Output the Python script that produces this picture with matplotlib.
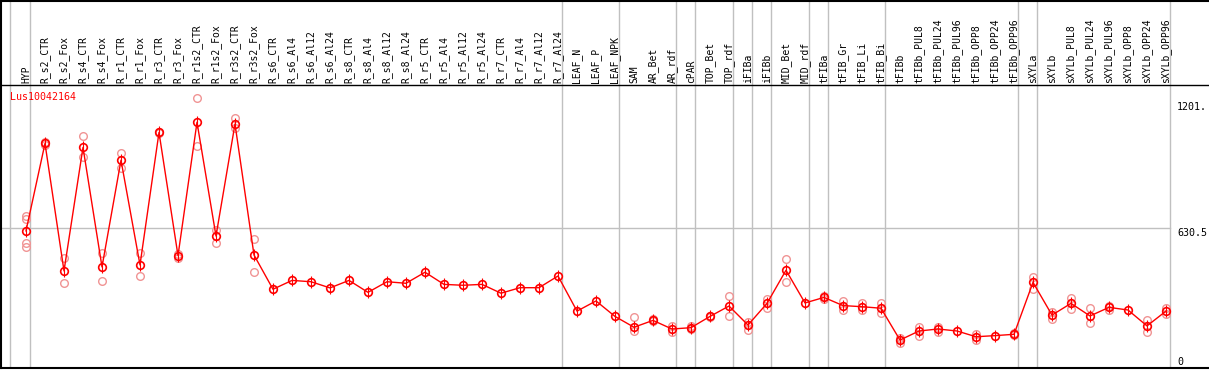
import matplotlib
matplotlib.use('Agg')
import matplotlib.pyplot as plt

labels = ['HYP', 'R_s2_CTR', 'R_s2_Fox', 'R_s4_CTR', 'R_s4_Fox', 'R_r1_CTR', 'R_r1_Fox',
          'R_r3_CTR', 'R_r3_Fox', 'R_r1s2_CTR', 'R_r1s2_Fox', 'R_r3s2_CTR', 'R_r3s2_Fox',
          'R_s6_CTR', 'R_s6_Al4', 'R_s6_Al12', 'R_s6_Al24', 'R_s8_CTR', 'R_s8_Al4', 'R_s8_Al12',
          'R_s8_Al24', 'R_r5_CTR', 'R_r5_Al4', 'R_r5_Al12', 'R_r5_Al24', 'R_r7_CTR', 'R_r7_Al4',
          'R_r7_Al12', 'R_r7_Al24', 'LEAF_N', 'LEAF_P', 'LEAF_NPK', 'SAM', 'AR_Bet', 'AR_rdf',
          'cPAR', 'TOP_Bet', 'TOP_rdf', 'iFIBa', 'iFIBb', 'MID_Bet', 'MID_rdf', 'tFIBa',
          'tFIB_Gr', 'tFIB_Li', 'tFIB_Bi', 'tFIBb', 'tFIBb_PUL8', 'tFIBb_PUL24', 'tFIBb_PUL96',
          'tFIBb_OPP8', 'tFIBb_OPP24', 'tFIBb_OPP96', 'sXYLa', 'sXYLb', 'sXYLb_PUL8',
          'sXYLb_PUL24', 'sXYLb_PUL96', 'sXYLb_OPP8', 'sXYLb_OPP24', 'sXYLb_OPP96']

means = [616, 1012, 435, 994, 453, 936, 462, 1062, 504, 1108, 593, 1100, 507,
         352, 392, 386, 358, 392, 338, 386, 379, 429, 374, 370, 374, 334, 359, 359, 412,
         253, 299, 229, 180, 211, 172, 178, 229, 276, 190, 288, 438, 290, 315, 278, 273, 266,
         122, 163, 172, 163, 137, 142, 148, 383, 235, 288, 231, 270, 258, 186, 253]

replicates = [[685, 672, 560, 545], [1020, 1005], [492, 382], [1046, 952], [515, 389],
              [970, 899], [515, 412], [1066, 1058], [510, 494], [1216, 1002], [620, 560],
              [1129, 1081], [579, 431],
              [], [], [], [], [], [], [], [], [], [], [], [], [], [], [], [],
              [], [], [], [225, 164], [216, 206], [187, 157], [184, 172], [232, 226],
              [321, 229], [205, 168], [309, 266], [489, 383], [], [322, 308], [299, 258],
              [288, 258], [291, 243], [133, 110], [180, 140], [183, 160], [], [148, 120],
              [], [153, 143], [409, 352], [248, 216], [314, 261], [266, 198], [277, 259],
              [], [213, 160], [268, 240]]

# columns after which a grey separator is drawn
separators = [0, 28, 31, 34, 35, 37, 38, 39, 41, 42, 45, 52, 53, 60]

gene = 'Lus10042164'
y_ticks = [1201, 630.5, 0]
y_tick_labels = ['1201.', '630.5', '0']

W, H = 1209, 370
x0_px, step_px = 26, 19          # pixel of first column, column spacing
zero_px, scale = 367, 0.2209     # pixel row of value 0, pixels per unit
header_px = 85

fig = plt.figure(figsize=(W / 100, H / 100), dpi=100)
bottom_px, top_px, left_px = 368, 0.5, 1
ax = fig.add_axes([left_px / W, (H - bottom_px) / H, 1 - left_px / W, (bottom_px - top_px) / H])

ylo = -(bottom_px - zero_px) / scale
yhi = ylo + (bottom_px - top_px) / scale
ax.set_ylim(ylo, yhi)
ax.set_xlim((left_px - x0_px) / step_px, (W - x0_px) / step_px)

mono = 'DejaVu Sans Mono'
grey = '#c0c0c0'
x = list(range(len(labels)))

# grid lines
ax.axvline((10 - x0_px) / step_px, color=grey, lw=1, zorder=1)
for s in separators:
    ax.axvline(s + 4 / step_px, color=grey, lw=1, zorder=1)
ax.plot([ax.get_xlim()[0], separators[-1] + 4 / step_px], [630.5, 630.5], color=grey, lw=1, zorder=1)
header_val = (zero_px - header_px) / scale
ax.axhline(header_val, color='black', lw=1, zorder=2)

# column labels
label_val = (zero_px - header_px + 2.5) / scale
for i, lab in enumerate(labels):
    ax.text(i, label_val, lab, rotation=90, ha='center', va='bottom',
            family=mono, fontsize=7, color='black')

# data
pink = '#f09494'
for i, reps in enumerate(replicates):
    if reps:
        ax.plot([i] * len(reps), reps, 'o', ms=5.5, mfc='none', mec=pink, mew=1, zorder=3)
ax.plot(x, means, '-', color='red', lw=1, zorder=4)
ax.plot(x, means, 'o', ms=5.5, mfc='none', mec='red', mew=1.2, zorder=5)
ax.plot(x, means, '|', ms=8, mec='red', mew=0.8, zorder=5)

ax.text((10 - x0_px) / step_px, (zero_px - 92) / scale, gene, color='red', family=mono,
        fontsize=7.2, ha='left', va='top')

xt = (1177 - x0_px) / step_px
for v, t in zip(y_ticks, y_tick_labels):
    ax.text(xt, v, t, family=mono, fontsize=7.2, ha='left', va='bottom' if v == 0 else 'top')

for side in ['left', 'top', 'bottom']:
    ax.spines[side].set_linewidth(1.5)
ax.spines['right'].set_visible(False)
ax.set_xticks([])
ax.set_yticks([])

fig.savefig('out.png', dpi=100)
